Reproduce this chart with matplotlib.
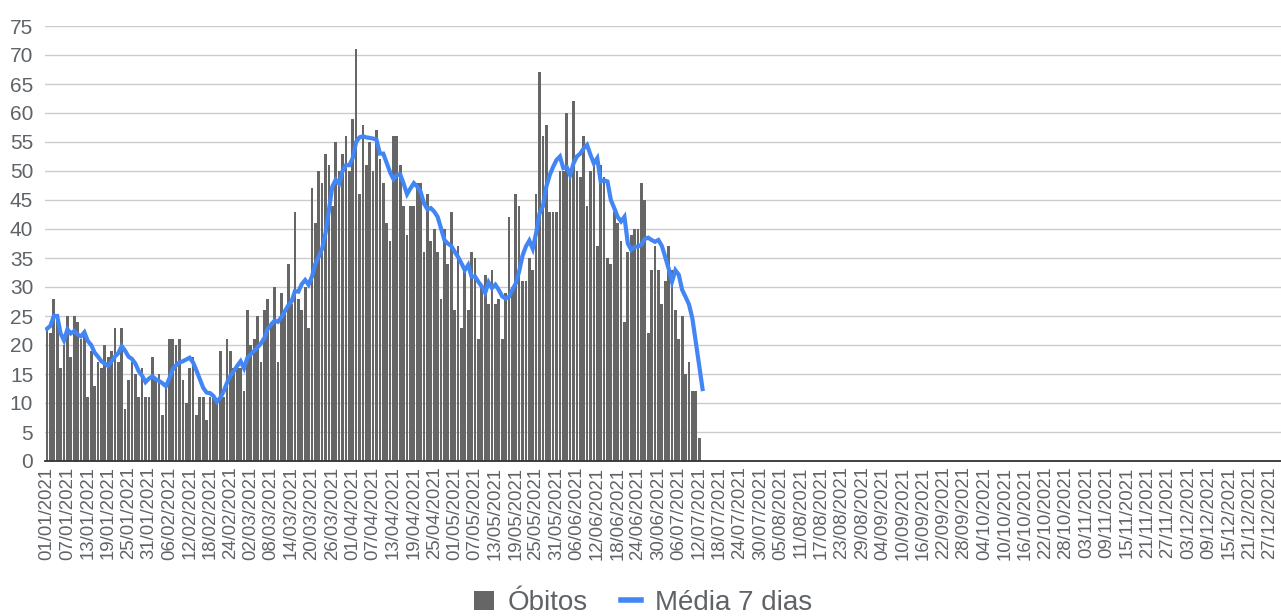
import matplotlib
matplotlib.use('Agg')
import matplotlib.pyplot as plt
from matplotlib.lines import Line2D
from matplotlib.patches import Patch
import pandas as pd

plt.rcParams['font.family'] = ['Liberation Sans', 'DejaVu Sans']

# daily deaths (obitos) from 01/01/2021
obitos = [23, 22, 28, 25, 16, 20, 25, 18, 25, 24, 21, 22, 11, 19, 13, 17, 16, 20, 18, 19,
          23, 17, 23, 9, 14, 17, 15, 11, 16, 11, 11, 18, 14, 15, 8, 13, 21, 21, 20, 21,
          14, 10, 16, 18, 8, 11, 11, 7, 11, 11, 10, 19, 11, 21, 19, 16, 16, 16, 12, 26,
          20, 21, 25, 17, 26, 28, 24, 30, 17, 29, 26, 34, 27, 43, 28, 26, 30, 23, 47, 41,
          50, 48, 53, 51, 44, 55, 50, 53, 56, 50, 59, 71, 46, 58, 51, 55, 50, 57, 52, 48,
          41, 38, 56, 56, 51, 44, 39, 44, 44, 48, 48, 36, 46, 38, 40, 36, 28, 40, 34, 43,
          26, 37, 23, 33, 26, 36, 35, 21, 30, 32, 27, 33, 27, 28, 21, 29, 42, 30, 46, 44,
          31, 31, 35, 33, 46, 67, 56, 58, 43, 43, 43, 50, 50, 60, 49, 62, 50, 49, 56, 44,
          50, 52, 37, 51, 49, 35, 34, 43, 41, 38, 24, 36, 39, 40, 40, 48, 45, 22, 33, 37,
          33, 27, 31, 37, 33, 26, 21, 25, 15, 17, 12, 12, 4, 0]

# 7-day mean line
media7 = [22.8, 23.3, 25, 25, 22, 20.8, 22.7, 22, 22.4, 21.8, 21.5, 22.2, 20.7, 20, 18.7,
          18, 17.2, 16.8, 16.4, 17.2, 18, 18.6, 19.8, 19, 18, 17.6, 16.8, 15.5, 14.7, 13.6,
          14.2, 14.6, 14.1, 13.8, 13.4, 12.9, 14.2, 15.8, 16.5, 17, 17.2, 17.5, 17.8, 17,
          15.6, 14.1, 12.6, 11.8, 11.7, 11.2, 10.2, 10.9, 12, 13.5, 14.7, 15.5, 16.4, 17.2,
          16, 17.8, 18.4, 19, 19.6, 20.3, 21.2, 22.8, 23.5, 24.2, 24, 24.8, 25.8, 26.8,
          27.5, 29.3, 29.2, 30.5, 31.2, 30.4, 31.8, 34, 35.2, 36.6, 39.3, 43.3, 47.3, 48.5,
          47.8, 50, 51, 51, 52.2, 55, 55.8, 56, 55.8, 55.7, 55.6, 55.4, 53, 53, 51.4, 49.8,
          48.6, 49.3, 49.4, 47.8, 46, 47, 47.9, 47.3, 46.4, 44.4, 43.4, 43.6, 43, 42.1,
          40.1, 38.1, 37.5, 37.1, 36.1, 35.2, 34.1, 32.9, 33.8, 31.8, 31.8, 30.9, 30.1, 29,
          30.8, 29.8, 30.4, 29.5, 28.4, 28, 28.3, 29.5, 30.6, 32.7, 35.4, 37, 38, 36.6,
          39.3, 42.7, 43.9, 47.3, 49.3, 50.7, 51.9, 52.5, 50.5, 50.7, 49.3, 51.3, 52.5, 53,
          53.9, 54.5, 52.8, 51.3, 52.2, 48.2, 48.4, 48.2, 45, 43.6, 42.1, 41.3, 42.1, 37.5,
          36.4, 36.9, 37, 37.3, 38.3, 38.5, 38.1, 37.8, 38.1, 37.1, 35.2, 33.2, 30.9, 32.9,
          32.1, 29.5, 28.3, 27, 24.6, 20.6, 16.5, 12.4]

dias = pd.date_range('2021-01-01', '2021-12-31', freq='D')
tick_pos = list(range(0, len(dias), 6))
tick_lbl = [dias[i].strftime('%d/%m/%Y') for i in tick_pos]

cinza = '#666666'
azul = '#4285f4'
txt = '#5f6368'

fig = plt.figure(figsize=(12.81, 6.16), dpi=100)
ax = fig.add_axes([45 / 1281, 1 - 461 / 616, 1236 / 1281, 435 / 616])

ax.bar(range(len(obitos)), obitos, width=0.8, color=cinza, zorder=2)
ax.plot(range(len(media7)), media7, color=azul, lw=3.0, zorder=3,
        solid_joinstyle='miter')

ax.set_xlim(-0.59, 363.3)
ax.set_ylim(0, 75)
ax.set_yticks(range(0, 80, 5))
ax.yaxis.grid(True, color='#cccccc', lw=1, zorder=0)
ax.set_axisbelow(True)
ax.set_xticks(tick_pos)
ax.set_xticklabels(tick_lbl, rotation=90, fontsize=13.4, color=txt)
ax.tick_params(axis='x', length=0, pad=4)
ax.tick_params(axis='y', length=0, pad=8.5, labelsize=15, labelcolor=txt)
for s in ['top', 'right', 'left']:
    ax.spines[s].set_visible(False)
ax.spines['bottom'].set_color('#333333')
ax.spines['bottom'].set_linewidth(1.3)
ax.spines['bottom'].set_zorder(4)

handles = [Patch(facecolor=cinza, edgecolor='none', label='Óbitos'),
           Line2D([], [], color=azul, lw=4, label='Média 7 dias')]
fig.legend(handles=handles, loc='center', bbox_to_anchor=(0.502, 1 - 603 / 616),
           ncol=2, frameon=False, fontsize=20, labelcolor=txt,
           handlelength=0.7, handleheight=0.7, handletextpad=0.5, columnspacing=1.2)

fig.savefig('out.png', dpi=100)
